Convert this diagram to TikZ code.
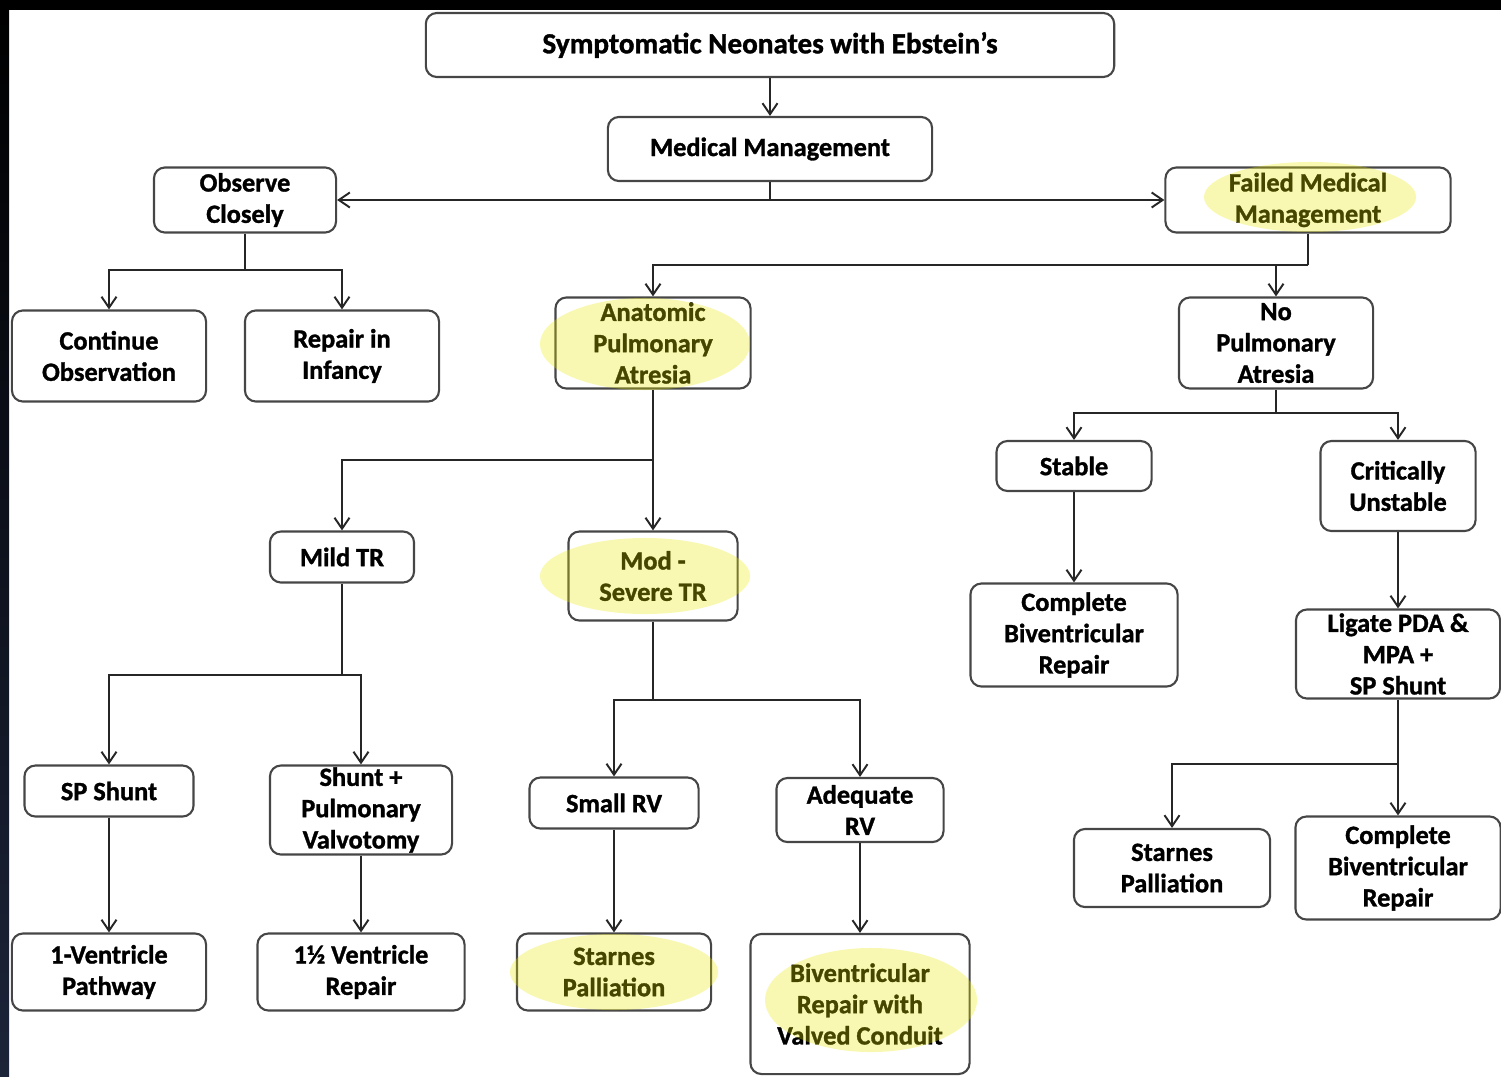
\documentclass[tikz,border=0pt]{standalone}
\usepackage{fontspec}
\setmainfont{Carlito}[BoldFeatures={FakeBold=1.2}]
\usetikzlibrary{arrows.meta}

\definecolor{edge}{RGB}{70,70,70}
\definecolor{hilite}{RGB}{235,235,0}
\definecolor{frame}{RGB}{28,36,58}

\tikzset{
    box/.style={draw=edge, line width=0.6pt, rounded corners=1.1mm, align=center,
        inner sep=0pt, fill=white, font=\bfseries\fontsize{7.5}{8.9}\selectfont},
    link/.style={draw=black!85, line width=0.55pt},
    arr/.style={link, -{Straight Barb[length=1.1mm,width=1.5mm]}},
    hl/.style={fill=hilite, fill opacity=0.3}
}

\begin{document}
\begin{tikzpicture}[x=0.01cm, y=-0.01cm]
    \useasboundingbox (0,0) rectangle (1501,1076);
    \fill[black] (0,0) rectangle (1501,10);
    \shade[top color=black, bottom color=frame] (0,10) rectangle (9,1076);

    % rows of boxes
    \node[box, minimum width=6.88cm, minimum height=0.64cm, font=\bfseries\fontsize{8.3}{9}\selectfont] (sn) at (770,45) {Symptomatic Neonates with Ebstein's};
    \node[box, minimum width=3.24cm, minimum height=0.64cm] (mm) at (770,149) {Medical Management};
    \node[box, minimum width=1.82cm, minimum height=0.65cm] (oc) at (245,200) {Observe\\Closely};
    \node[box, minimum width=2.85cm, minimum height=0.65cm] (fmm) at (1308,200) {Failed Medical\\Management};
    \node[box, minimum width=1.94cm, minimum height=0.91cm] (co) at (109,356) {Continue\\Observation};
    \node[box, minimum width=1.94cm, minimum height=0.91cm] (ri) at (342,356) {Repair in\\Infancy};
    \node[box, minimum width=1.95cm, minimum height=0.91cm] (apa) at (653,343) {Anatomic\\Pulmonary\\Atresia};
    \node[box, minimum width=1.94cm, minimum height=0.91cm] (npa) at (1276,343) {No\\Pulmonary\\Atresia};
    \node[box, minimum width=1.55cm, minimum height=0.50cm] (st) at (1074,466) {Stable};
    \node[box, minimum width=1.55cm, minimum height=0.90cm] (cu) at (1398,486) {Critically\\Unstable};
    \node[box, minimum width=1.44cm, minimum height=0.51cm] (mtr) at (342,557) {Mild TR};
    \node[box, minimum width=1.69cm, minimum height=0.89cm] (str) at (653,576) {Mod -\\Severe TR};
    \node[box, minimum width=2.07cm, minimum height=1.03cm] (cbr) at (1074,635) {Complete\\Biventricular\\Repair};
    \node[box, minimum width=2.04cm, minimum height=0.89cm] (lpda) at (1398,654) {Ligate PDA \&\\MPA +\\SP Shunt};
    \node[box, minimum width=1.69cm, minimum height=0.51cm] (sps) at (109,791) {SP Shunt};
    \node[box, minimum width=1.82cm, minimum height=0.89cm] (spv) at (361,810) {Shunt +\\Pulmonary\\Valvotomy};
    \node[box, minimum width=1.69cm, minimum height=0.51cm] (srv) at (614,803) {Small RV};
    \node[box, minimum width=1.67cm, minimum height=0.64cm] (arv) at (860,810) {Adequate\\RV};
    \node[box, minimum width=1.96cm, minimum height=0.78cm] (spr) at (1172,868) {Starnes\\Palliation};
    \node[box, minimum width=2.05cm, minimum height=1.03cm] (cbr2) at (1398,868) {Complete\\Biventricular\\Repair};
    \node[box, minimum width=1.94cm, minimum height=0.77cm] (onev) at (109,972) {1-Ventricle\\Pathway};
    \node[box, minimum width=2.07cm, minimum height=0.77cm] (ohv) at (361,972) {1\textonehalf{} Ventricle\\Repair};
    \node[box, minimum width=1.94cm, minimum height=0.77cm] (spm) at (614,972) {Starnes\\Palliation};
    \node[box, minimum width=2.19cm, minimum height=1.40cm] (bvc) at (860,1004) {Biventricular\\Repair with\\Valved Conduit};

    % branch points
    \coordinate (jmm) at (770,200);
    \coordinate (joc) at (245,270);
    \coordinate (jfm) at (1308,265);
    \coordinate (jnp) at (1276,413);
    \coordinate (jap) at (653,460);
    \coordinate (jmt) at (342,675);
    \coordinate (jst) at (653,700);
    \coordinate (jlp) at (1398,764);

    \draw[arr] (sn) -- (mm);
    \draw[link] (mm) -- (jmm);
    \draw[arr] (jmm) -- (oc);
    \draw[arr] (jmm) -- (fmm);
    \draw[link] (oc) -- (joc);
    \draw[arr] (joc) -| (co);
    \draw[arr] (joc) -| (ri);
    \draw[link] (fmm) -- (jfm);
    \draw[arr] (jfm) -| (apa);
    \draw[arr] (jfm) -| (npa);
    \draw[link] (npa) -- (jnp);
    \draw[arr] (jnp) -| (st);
    \draw[arr] (jnp) -| (cu);
    \draw[arr] (apa) -- (str);
    \draw[arr] (jap) -| (mtr);
    \draw[arr] (st) -- (cbr);
    \draw[arr] (cu) -- (lpda);
    \draw[link] (mtr) -- (jmt);
    \draw[arr] (jmt) -| (sps);
    \draw[arr] (jmt) -| (spv);
    \draw[link] (str) -- (jst);
    \draw[arr] (jst) -| (srv);
    \draw[arr] (jst) -| (arv);
    \draw[arr] (lpda) -- (cbr2);
    \draw[arr] (jlp) -| (spr);
    \draw[arr] (sps) -- (onev);
    \draw[arr] (spv) -- (ohv);
    \draw[arr] (srv) -- (spm);
    \draw[arr] (arv) -- (bvc);

    % yellow highlights
    \fill[hl] (1310,197) ellipse [x radius=1.06cm, y radius=0.35cm];
    \fill[hl] (645,344) ellipse [x radius=1.05cm, y radius=0.46cm];
    \fill[hl] (645,576) ellipse [x radius=1.05cm, y radius=0.38cm];
    \fill[hl] (614,972) ellipse [x radius=1.04cm, y radius=0.38cm];
    \fill[hl] (871,1000) ellipse [x radius=1.06cm, y radius=0.52cm];
\end{tikzpicture}
\end{document}
